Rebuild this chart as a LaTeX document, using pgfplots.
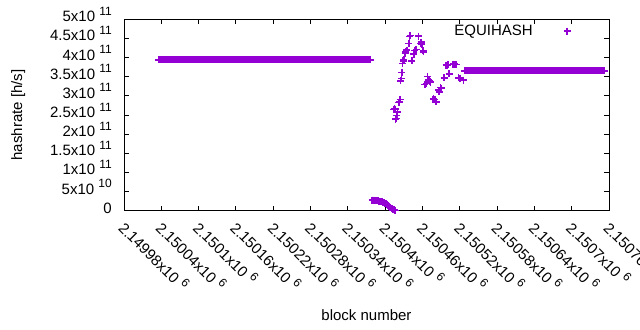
\documentclass[border=0pt]{standalone}
\usepackage{fontspec}
\setmainfont{Liberation Sans}
\usepackage{pgfplots}
\pgfplotsset{compat=1.18}
\definecolor{gpviolet}{HTML}{9400D3}
\newcommand\E[1]{\hspace{0.28em}\raisebox{0.42em}{\fontsize{12bp}{12bp}\selectfont #1}}
\begin{document}
\fontsize{15bp}{18bp}\selectfont
\begin{tikzpicture}
\useasboundingbox (0,0) rectangle (640bp,330bp);
\begin{axis}[
  at={(124bp,119.3bp)}, anchor=south west,
  scale only axis, width=485bp, height=191.5bp,
  xmin=-20, xmax=760, ymin=0, ymax=500,
  xtick={-20,40,100,160,220,280,340,400,460,520,580,640,700,760},
  xticklabels={2.14998x10\E{6},2.15004x10\E{6},2.1501x10\E{6},2.15016x10\E{6},2.15022x10\E{6},2.15028x10\E{6},2.15034x10\E{6},2.1504x10\E{6},2.15046x10\E{6},2.15052x10\E{6},2.15058x10\E{6},2.15064x10\E{6},2.1507x10\E{6},2.15076x10\E{6}},
  ytick={0,50,100,150,200,250,300,350,400,450,500},
  yticklabels={0,5x10\E{10},1x10\E{11},1.5x10\E{11},2x10\E{11},2.5x10\E{11},3x10\E{11},3.5x10\E{11},4x10\E{11},4.5x10\E{11},5x10\E{11}},
  tick align=inside, major tick length=4.5bp,
  axis line style={black, line width=0.9bp},
  every tick/.style={black, line width=0.9bp},
  xticklabel style={xshift=-6.6bp, yshift=-18.3bp, rotate=-45, anchor=base west, inner sep=0pt},
  yticklabel style={inner sep=0pt, anchor=base east, xshift=-12bp, yshift=-2.5bp},
  xlabel={block number}, ylabel={hashrate [h/s]},
  xlabel style={at={(axis description cs:0.5,-0.571)}, anchor=base},
  ylabel style={at={(axis description cs:-0.2103,0.5)}, anchor=base},
  legend plot pos=right,
  legend cell align=right,
  legend style={draw=none, fill=none, column sep=29bp, at={(axis description cs:0.9276,0.938)}, anchor=east},
]
% x = block number - 2150000 ; y = hashrate in 1e9 h/s
\addplot[only marks, mark=+, mark size=3.5bp, color=gpviolet, mark options={line width=1.5bp}] coordinates {
(36,394)(38,394)(40,394)(42,394)(44,394)(46,394)(48,394)(50,394)(52,394)(54,394)
(56,394)(58,394)(60,394)(62,394)(64,394)(66,394)(68,394)(70,394)(72,394)(74,394)
(76,394)(78,394)(80,394)(82,394)(84,394)(86,394)(88,394)(90,394)(92,394)(94,394)
(96,394)(98,394)(100,394)(102,394)(104,394)(106,394)(108,394)(110,394)(112,394)(114,394)
(116,394)(118,394)(120,394)(122,394)(124,394)(126,394)(128,394)(130,394)(132,394)(134,394)
(136,394)(138,394)(140,394)(142,394)(144,394)(146,394)(148,394)(150,394)(152,394)(154,394)
(156,394)(158,394)(160,394)(162,394)(164,394)(166,394)(168,394)(170,394)(172,394)(174,394)
(176,394)(178,394)(180,394)(182,394)(184,394)(186,394)(188,394)(190,394)(192,394)(194,394)
(196,394)(198,394)(200,394)(202,394)(204,394)(206,394)(208,394)(210,394)(212,394)(214,394)
(216,394)(218,394)(220,394)(222,394)(224,394)(226,394)(228,394)(230,394)(232,394)(234,394)
(236,394)(238,394)(240,394)(242,394)(244,394)(246,394)(248,394)(250,394)(252,394)(254,394)
(256,394)(258,394)(260,394)(262,394)(264,394)(266,394)(268,394)(270,394)(272,394)(274,394)
(276,394)(278,394)(280,394)(282,394)(284,394)(286,394)(288,394)(290,394)(292,394)(294,394)
(296,394)(298,394)(300,394)(302,394)(304,394)(306,394)(308,394)(310,394)(312,394)(314,394)
(316,394)(318,394)(320,394)(322,394)(324,394)(326,394)(328,394)(330,394)(332,394)(334,394)
(336,394)(338,394)(340,394)(342,394)(344,394)(346,394)(348,394)(350,394)(352,394)(354,394)
(356,394)(358,394)(360,394)(362,394)(364,394)(366,394)(368,394)(370,394)(372,394)(374,394)
(376,394)
(379,27.4)(380,27.4)(381,27.4)(382,27.3)(383,27.2)(384,27.0)(385,26.6)(386,26.3)(387,26.0)(388,25.8)
(389,25.5)(390,25.2)(391,25.0)(392,24.6)(393,24.2)(394,23.7)(395,23.0)(396,22.2)(397,21.5)(398,20.5)
(399,19.5)(400,18.5)(401,17.5)(402,16.5)(403,15.0)(404,14.2)(405,13.0)(406,11.8)(407,10.5)(408,9.5)
(409,8.2)(410,7.0)(411,5.8)(412,4.6)(413,3.5)(414,2.4)(415,1.4)(416,0.5)
(414,264)(415,267)(416,265)(417,239)(418,241)(419,249)(420,258)(422,282)(423,284)(424,290)
(425,339)(426,345)(427,361)(428,384)(429,391)(430,395)(432,411)(433,415)(435,419)(438,437)
(439,455)(440,458)(443,391)(446,409)(448,418)(450,421)(454,456)(457,437)(458,440)(459,435)
(461,417)(462,415)(464,330)(466,332)(468,351)(470,341)(471,339)(472,338)(473,336)(477,291)
(478,293)(480,290)(482,284)(486,315)(487,310)(489,322)(490,320)(495,347)(498,380)(500,380)
(501,381)(503,357)(508,382)(510,383)(512,383)(514,382)(518,347)(520,346)(521,345)(526,341)
(528,365)(530,365)(532,365)(534,365)(536,365)(538,365)(540,365)(542,365)(544,365)(546,365)
(548,365)(550,365)(552,365)(554,365)(556,365)(558,365)(560,365)(562,365)(564,365)(566,365)
(568,365)(570,365)(572,365)(574,365)(576,365)(578,365)(580,365)(582,365)(584,365)(586,365)
(588,365)(590,365)(592,365)(594,365)(596,365)(598,365)(600,365)(602,365)(604,365)(606,365)
(608,365)(610,365)(612,365)(614,365)(616,365)(618,365)(620,365)(622,365)(624,365)(626,365)
(628,365)(630,365)(632,365)(634,365)(636,365)(638,365)(640,365)(642,365)(644,365)(646,365)
(648,365)(650,365)(652,365)(654,365)(656,365)(658,365)(660,365)(662,365)(664,365)(666,365)
(668,365)(670,365)(672,365)(674,365)(676,365)(678,365)(680,365)(682,365)(684,365)(686,365)
(688,365)(690,365)(692,365)(694,365)(696,365)(698,365)(700,365)(702,365)(704,365)(706,365)
(708,365)(710,365)(712,365)(714,365)(716,365)(718,365)(720,365)(722,365)(724,365)(726,365)
(728,365)(730,365)(732,365)(734,365)(736,365)(738,365)(740,365)(742,365)(744,365)(746,365)
(748,365)(750,365)(752,365)
};
\addlegendentry{EQUIHASH}
\end{axis}
\end{tikzpicture}
\end{document}
